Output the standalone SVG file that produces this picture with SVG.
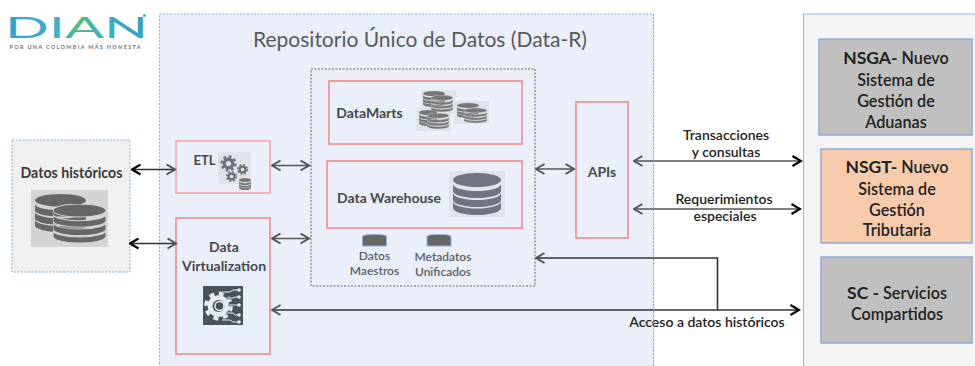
<svg xmlns="http://www.w3.org/2000/svg" width="975" height="366" viewBox="0 0 975 366">
<style>
text{font-family:"Lato","Open Sans","Liberation Sans",sans-serif;font-weight:700;fill:#44494f;text-anchor:middle}
.panel{fill:#ebeffa;stroke:#8faadc;stroke-width:1;stroke-dasharray:2 1.5}
.red{fill:none;stroke:#f2898f;stroke-width:1.6}
.sys{stroke:#8faadc;stroke-width:1.5}
.lbl{font-size:14px;fill:#222;font-weight:600}
.sys-t{font-size:16.2px;fill:#222;font-weight:600}
.big{font-size:17.5px;font-weight:700}
.small{font-size:12px;fill:#5a5f66;font-weight:600}
.link{fill:none;stroke:#555;stroke-width:1.6}
.k{stroke:#333}
.cyl{fill:#666;stroke:#8fb0e0;stroke-width:1}
</style>
<defs>
<symbol id="db" viewBox="0 0 48 42" preserveAspectRatio="none">
<ellipse cx="24" cy="7" rx="24" ry="7"/>
<path d="M0 11A24 7 0 0 0 48 11V18A24 7 0 0 1 0 18Z"/>
<path d="M0 20A24 7 0 0 0 48 20V27A24 7 0 0 1 0 27Z"/>
<path d="M0 28.500A24 7 0 0 0 48 28.500V35A24 7 0 0 1 0 35Z"/>
</symbol>
<symbol id="gear" viewBox="-10 -10 20 20">
<circle r="6.300"/>
<circle r="7.300" fill="none" stroke="#6f7379" stroke-width="2.600" stroke-dasharray="2.900 2.830"/>
<circle r="2.700" fill="#dfe3ea"/>
</symbol>
<symbol id="gear2" viewBox="-10 -10 20 20">
<circle r="7"/>
<circle r="8" fill="none" stroke="#e8ecf2" stroke-width="2.600" stroke-dasharray="3.200 3.080"/>
</symbol>
<marker id="g" viewBox="0 0 12 12" refX="10.500" refY="6" markerWidth="12" markerHeight="12" markerUnits="userSpaceOnUse" orient="auto-start-reverse">
<path d="M2 1L10.500 6L2 11" fill="none" stroke="#555" stroke-width="2"/>
</marker>
<marker id="b" viewBox="0 0 12 12" refX="10.500" refY="6" markerWidth="12" markerHeight="12" markerUnits="userSpaceOnUse" orient="auto-start-reverse">
<path d="M2 1L10.500 6L2 11" fill="none" stroke="#000" stroke-width="2.200"/>
</marker>
<linearGradient id="logo" x1="0" x2="1" y1="0" y2="0">
<stop offset="0" stop-color="#2fa3d0"/>
<stop offset="0.400" stop-color="#3cb3c8"/>
<stop offset="0.530" stop-color="#58bb78"/>
<stop offset="0.650" stop-color="#3fb3bb"/>
<stop offset="1" stop-color="#2f9fca"/>
</linearGradient>
</defs>

<rect width="975" height="366" fill="#fff"/>

<g id="logo-dian">
<text x="76.500" y="38" font-size="29.500" textLength="143" lengthAdjust="spacingAndGlyphs" style="font-weight:400;fill:url(#logo)">DIAN</text>
<circle cx="144.500" cy="15.500" r="1.500" fill="#3cb3c8"/>
<text x="75" y="49" font-size="5.500" textLength="131" lengthAdjust="spacing" style="fill:#777">POR UNA COLOMBIA MÁS HONESTA</text>
</g>

<g id="repositorio">
<rect class="panel" x="159.500" y="14" width="494" height="360"/>
<text x="420" y="47" font-size="21" style="font-weight:400;fill:#555a60">Repositorio Único de Datos (Data-R)</text>
</g>

<g id="datos-historicos">
<rect x="12" y="140" width="118" height="132" fill="#f0f0f0" stroke="#8faadc" stroke-width="1" stroke-dasharray="2 1.500"/>
<text x="71.500" y="178" font-size="14.200" style="fill:#3a3a3a">Datos históricos</text>
<rect x="31" y="190" width="77" height="57" fill="#d4d4d4"/>
<use href="#db" x="35" y="194" width="51" height="38" fill="#666"/>
<use href="#db" x="53" y="204" width="53" height="39" fill="#666" stroke="#d4d4d4" stroke-width="1"/>
</g>

<g id="etl">
<rect class="red" x="176" y="141" width="94" height="52" style="stroke:#f4a6aa"/>
<text x="204.500" y="165" font-size="13">ETL</text>
<rect x="218" y="152" width="33" height="32" fill="#dfe3ea"/>
<use href="#gear" x="219" y="154" width="19" height="19" fill="#6f7379"/>
<use href="#gear" x="236" y="163" width="13" height="13" fill="#6f7379"/>
<use href="#gear" x="225" y="170" width="13" height="13" fill="#6f7379"/>
<use href="#db" x="239" y="178" width="12" height="12" fill="#777"/>
</g>

<g id="data-virtualization">
<rect class="red" x="176" y="218" width="94" height="136"/>
<text x="224" y="252" font-size="14">Data</text>
<text x="224" y="271" font-size="14">Virtualization</text>
<rect x="203" y="286" width="40" height="39" fill="#4a5358"/>
<use href="#gear2" x="203" y="290.500" width="31" height="31" fill="#e8ecf2"/>
<circle cx="218.500" cy="306" r="6" fill="#4a5358"/>
<circle cx="219.500" cy="306" r="4.500" fill="#4a5358" stroke="#e8ecf2" stroke-width="1.500"/>
<path d="M222 292H230L233 290H239M226 298H233L235 297H239M228 305H239M226 313H233L235 315H239M222 320H230L233 322H239" fill="none" stroke="#4a5358" stroke-width="2.500"/>
<path d="M222 292H230L233 290H239M226 298H233L235 297H239M228 305H239M226 313H233L235 315H239M222 320H230L233 322H239" fill="none" stroke="#e8ecf2" stroke-width="1"/>
<g fill="#e8ecf2"><circle cx="239" cy="290" r="1.800"/><circle cx="239" cy="297" r="1.800"/><circle cx="239" cy="305" r="1.800"/><circle cx="239" cy="315" r="1.800"/><circle cx="239" cy="322" r="1.800"/></g>
</g>

<g id="zona-datos">
<rect x="311" y="69" width="224" height="217" fill="none" stroke="#666" stroke-width="1" stroke-dasharray="2 1.500"/>
</g>

<g id="datamarts">
<rect class="red" x="329" y="81" width="193" height="63"/>
<text x="369.500" y="118" font-size="14">DataMarts</text>
<rect x="421" y="90" width="35" height="23" fill="#dfe3ea"/>
<rect x="454" y="101" width="35" height="23" fill="#dfe3ea"/>
<rect x="416" y="108" width="35" height="23" fill="#dfe3ea"/>
<use href="#db" x="423" y="91" width="22" height="16" fill="#777"/>
<use href="#db" x="431" y="95" width="22" height="17" fill="#777" stroke="#dfe3ea" stroke-width="1"/>
<use href="#db" x="419" y="110" width="18" height="16" fill="#777"/>
<use href="#db" x="427" y="113" width="22" height="16" fill="#777" stroke="#dfe3ea" stroke-width="1"/>
<use href="#db" x="457" y="103" width="22" height="15" fill="#777"/>
<use href="#db" x="464" y="108" width="23" height="15" fill="#777" stroke="#dfe3ea" stroke-width="1"/>
</g>

<g id="data-warehouse">
<rect class="red" x="327" y="161" width="195" height="67"/>
<text x="389" y="203" font-size="14">Data Warehouse</text>
<rect x="449" y="171" width="56" height="46" fill="#dfe3ea"/>
<use href="#db" x="453" y="173" width="48" height="42" fill="#6f7480"/>
</g>

<g id="datos-maestros">
<path class="cyl" d="M362.500 236.500Q362.500 234.500 374.500 234.500T386.500 236.500V246H362.500Z"/>
<text class="small" x="374.500" y="260">Datos</text>
<text class="small" x="374.500" y="275">Maestros</text>
</g>

<g id="metadatos">
<path class="cyl" d="M427 236.500Q427 234.500 439 234.500T451 236.500V246H427Z"/>
<text class="small" x="443" y="261">Metadatos</text>
<text class="small" x="443" y="276">Unificados</text>
</g>

<g id="apis">
<rect class="red" x="576" y="102" width="52" height="136"/>
<text x="602" y="177" font-size="14">APIs</text>
</g>

<g id="sistemas">
<rect x="803.500" y="14" width="175" height="356" fill="#f4f4f4" stroke="#9db5de" stroke-width="1"/>
</g>

<g id="nsga">
<rect class="sys" x="819" y="39" width="153" height="96" fill="#bfbfbf"/>
<text class="sys-t" x="896" y="64"><tspan class="big">NSGA-</tspan> Nuevo</text>
<text class="sys-t" x="896" y="86">Sistema de</text>
<text class="sys-t" x="896" y="107">Gestión de</text>
<text class="sys-t" x="896" y="128">Aduanas</text>
</g>

<g id="nsgt">
<rect class="sys" x="821" y="149" width="151" height="94" fill="#f8cbad"/>
<text class="sys-t" x="897" y="173"><tspan class="big">NSGT-</tspan> Nuevo</text>
<text class="sys-t" x="897" y="195">Sistema de</text>
<text class="sys-t" x="897" y="216">Gestión</text>
<text class="sys-t" x="897" y="236">Tributaria</text>
</g>

<g id="sc">
<rect class="sys" x="821" y="257" width="151" height="86" fill="#bfbfbf"/>
<text class="sys-t" x="897" y="299"><tspan class="big">SC -</tspan> Servicios</text>
<text class="sys-t" x="897" y="320">Compartidos</text>
</g>

<g id="connectors">
<path class="link k" d="M132 169.500H175" marker-start="url(#b)" marker-end="url(#g)"/>
<path class="link k" d="M130 243.500H176" marker-start="url(#b)" marker-end="url(#g)"/>
<path class="link" d="M272 165.500H309" marker-start="url(#g)" marker-end="url(#g)"/>
<path class="link" d="M272 238.500H309" marker-start="url(#g)" marker-end="url(#g)"/>
<path class="link" d="M536 169H574" marker-start="url(#g)" marker-end="url(#g)"/>
<path class="link" d="M634 161H801" marker-start="url(#g)" marker-end="url(#b)"/>
<path class="link" d="M634 209H800" marker-start="url(#g)" marker-end="url(#b)"/>
<path class="link k" d="M536 258H717.500V310" marker-start="url(#g)"/>
<path class="link k" d="M272 310H799" marker-start="url(#g)" marker-end="url(#b)"/>
</g>

<g id="connector-labels">
<text class="lbl" x="726" y="140">Transacciones</text>
<text class="lbl" x="726" y="157">y consultas</text>
<text class="lbl" x="724" y="204">Requerimientos</text>
<text class="lbl" x="725" y="221">especiales</text>
<text class="lbl" x="707" y="327">Acceso a datos históricos</text>
</g>
<path d="M653.500 14V366" fill="none" stroke="#8faadc" stroke-width="1" stroke-dasharray="2 1.500"/>
</svg>
